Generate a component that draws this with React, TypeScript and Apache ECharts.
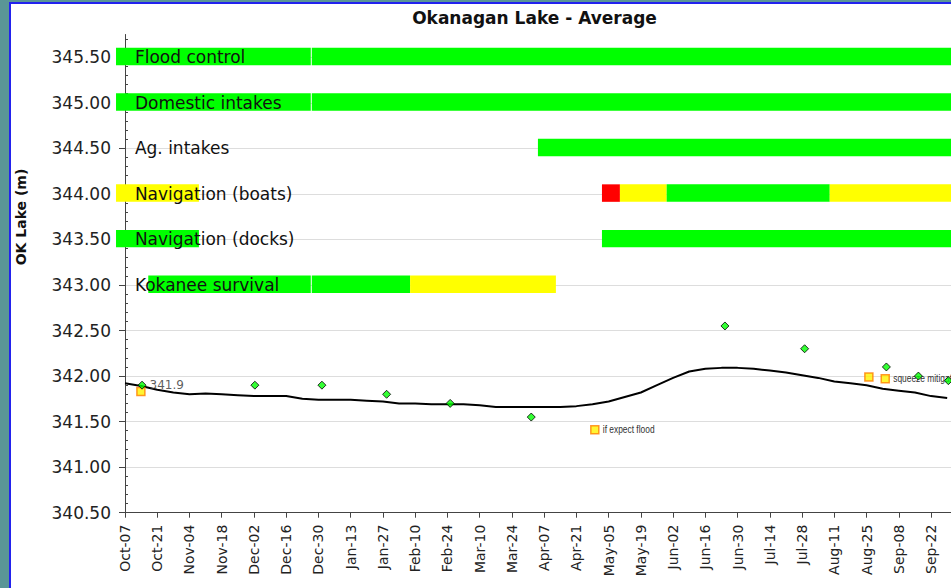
import React, { useEffect, useRef } from 'react';
import * as echarts from 'echarts';

// X axis: days since Oct-07, ticks every 14 days
const tickLabels = [
  'Oct-07', 'Oct-21', 'Nov-04', 'Nov-18', 'Dec-02', 'Dec-16', 'Dec-30', 'Jan-13', 'Jan-27',
  'Feb-10', 'Feb-24', 'Mar-10', 'Mar-24', 'Apr-07', 'Apr-21', 'May-05', 'May-19', 'Jun-02',
  'Jun-16', 'Jun-30', 'Jul-14', 'Jul-28', 'Aug-11', 'Aug-25', 'Sep-08', 'Sep-22', 'Oct-06',
];

// Constraint rows
const rowNames = ['Flood control', 'Domestic intakes', 'Ag. intakes', 'Navigation (boats)', 'Navigation (docks)', 'Kokanee survival'];
const rowLevels = [345.5, 345.0, 344.5, 344.0, 343.5, 343.0];
// segments: [startDay, endDay, status]  status: 0 ok (green), 1 caution (yellow), 2 problem (red)
const floodSegments = [[-3.9, 81.1, 0], [81.1, 364, 0]];
const domesticSegments = [[-3.9, 81.1, 0], [81.1, 364, 0]];
const agSegments = [[179.3, 364, 0]];
const boatSegments = [[-3.9, 32.1, 1], [207.1, 214.9, 2], [214.9, 235.2, 1], [235.2, 306.0, 0], [306.0, 364, 1]];
const dockSegments = [[-3.9, 32.1, 0], [207.1, 364, 0]];
const kokaneeSegments = [[10.1, 81.1, 0], [81.1, 123.8, 0], [123.8, 187.1, 1]];
const rowSegments = [floodSegments, domesticSegments, agSegments, boatSegments, dockSegments, kokaneeSegments];
const statusColors = ['#00FF00', '#FFFF00', '#FF0000'];

// Average lake level, weekly from Oct-07
const weeklyLevel = [
  341.92, 341.89, 341.85, 341.82, 341.80, 341.81, 341.80, 341.79, 341.78, 341.78, 341.78, 341.75,
  341.74, 341.74, 341.74, 341.73, 341.72, 341.70, 341.70, 341.69, 341.69, 341.69, 341.68, 341.66,
  341.66, 341.66, 341.66, 341.66, 341.67, 341.69, 341.72, 341.77, 341.82, 341.90, 341.98, 342.05,
  342.08, 342.09, 342.09, 342.08, 342.06, 342.04, 342.01, 341.98, 341.94, 341.92, 341.90, 341.86,
  341.84, 341.82, 341.78, 341.76,
];

// Targets (green diamonds)
const targetDays = [7.4, 56.4, 85.5, 113.6, 141.2, 176.4, 260.5, 295.1, 330.6, 344.5, 357.5];
const targetLevels = [341.9, 341.9, 341.9, 341.8, 341.7, 341.55, 342.55, 342.3, 342.1, 342.0, 341.95];
const targetNotes = ['341.9', '', '', '', '', '', '', '', '', '', ''];

// Alternative targets (yellow squares)
const altDays = [6.9, 204.0, 323.0, 330.1];
const altLevels = [341.83, 341.41, 341.99, 341.97];
const altNotes = ['', 'if expect flood', '', 'squeeze mitigation'];

const FONT = '"DejaVu Sans", Verdana, sans-serif';
const NOTE_FONT = '"Liberation Sans", Arial, sans-serif';

export default function App() {
  const ref = useRef<HTMLDivElement>(null);

  useEffect(() => {
    if (!ref.current) return;
    const chart = echarts.init(ref.current, undefined, { renderer: 'svg' });

    const barData: any[] = [];
    rowSegments.forEach((segs, r) => {
      segs.forEach((s, j) => {
        const next = segs[j + 1];
        const gap = next && next[2] === s[2] && next[0] === s[1] ? 1 : 0;
        barData.push([s[0], s[1], rowLevels[r], s[2], gap]);
      });
    });

    const labelData = rowLevels.map((lv, i) => [4.3, lv, i]);
    const noteData = altDays
      .map((d, i) => [d, altLevels[i], i])
      .filter((d) => altNotes[d[2]] !== '');

    const option: any = {
      animation: false,
      graphic: [
        {
          type: 'text',
          x: 534.5,
          y: 18,
          style: { text: 'Okanagan Lake - Average', font: `bold 17px ${FONT}`, fill: '#111', align: 'center', verticalAlign: 'middle' },
        },
        {
          type: 'text',
          x: 21,
          y: 217,
          rotation: Math.PI / 2,
          style: { text: 'OK Lake (m)', font: `bold 14px ${FONT}`, fill: '#111', align: 'center', verticalAlign: 'middle' },
        },
      ],
      grid: { left: 125, top: 34.5, width: 838.3, height: 478.2, outerBoundsMode: 'none', containLabel: false },
      xAxis: {
        type: 'value',
        min: 0,
        max: 364,
        interval: 14,
        axisLine: { show: true, lineStyle: { color: '#444', width: 1 } },
        axisTick: { show: true, length: 5, lineStyle: { color: '#444' } },
        splitLine: { show: false },
        axisLabel: {
          rotate: 90,
          margin: 12,
          fontSize: 14,
          fontFamily: FONT,
          color: '#222',
          showMaxLabel: false,
          formatter: (v: number) => tickLabels[Math.round(v / 14)] ?? '',
        },
      },
      yAxis: [
        {
          type: 'value',
          min: 340.5,
          max: 345.75,
          interval: 0.5,
          axisLine: { show: true, lineStyle: { color: '#444', width: 1 } },
          axisTick: { show: true, length: 6, lineStyle: { color: '#444' } },
          splitLine: { show: true, showMaxLine: false, lineStyle: { color: '#DDDDDD', width: 1 } },
          axisLabel: {
            fontSize: 17,
            fontFamily: FONT,
            color: '#222',
            margin: 14,
            showMaxLabel: false,
            formatter: (v: number) => v.toFixed(2),
          },
        },
        {
          type: 'value',
          position: 'left',
          offset: 0,
          min: 340.5,
          max: 345.75,
          interval: 0.5,
          axisLine: { show: false },
          axisTick: { show: false, inside: true },
          minorTick: { show: true, splitNumber: 5, length: 3, lineStyle: { color: '#444' } },
          splitLine: { show: false },
          axisLabel: { show: false },
        },
      ],
      series: [
        {
          type: 'custom',
          name: 'constraints',
          z: 1,
          clip: false,
          encode: { x: [0, 1], y: 2 },
          data: barData,
          renderItem: (params: any, api: any) => {
            const d = barData[params.dataIndex];
            const p0 = api.coord([d[0], d[2] + 0.105]);
            const p1 = api.coord([d[1], d[2] - 0.087]);
            return {
              type: 'rect',
              shape: { x: p0[0], y: p0[1], width: p1[0] - p0[0] - d[4], height: p1[1] - p0[1] },
              style: { fill: statusColors[d[3]] },
            };
          },
        },
        {
          type: 'custom',
          name: 'rowLabels',
          z: 3,
          clip: false,
          encode: { x: 0, y: 1 },
          data: labelData,
          renderItem: (params: any, api: any) => {
            const d = labelData[params.dataIndex];
            const p = api.coord([d[0], d[1]]);
            return {
              type: 'text',
              x: p[0],
              y: p[1],
              style: {
                text: rowNames[d[2]],
                font: `17px ${FONT}`,
                fill: '#111',
                align: 'left',
                verticalAlign: 'middle',
              },
            };
          },
        },
        {
          type: 'line',
          name: 'Average',
          z: 4,
          symbol: 'none',
          lineStyle: { color: '#000', width: 2 },
          data: weeklyLevel.map((v, i) => [i * 7, v]),
        },
        {
          type: 'scatter',
          name: 'Alternative',
          z: 5,
          symbol: 'rect',
          symbolSize: 8,
          itemStyle: { color: '#FFF200', borderColor: '#FF7F00', borderWidth: 1.5 },
          data: altDays.map((d, i) => [d, altLevels[i]]),
        },
        {
          type: 'custom',
          name: 'altNotes',
          z: 5,
          clip: false,
          encode: { x: 0, y: 1 },
          data: noteData,
          renderItem: (params: any, api: any) => {
            const d = noteData[params.dataIndex];
            const p = api.coord([d[0], d[1]]);
            return {
              type: 'text',
              x: p[0] + 8,
              y: p[1],
              scaleX: 0.84,
              style: {
                text: altNotes[d[2]],
                font: `10px ${NOTE_FONT}`,
                fill: '#333',
                align: 'left',
                verticalAlign: 'middle',
              },
            };
          },
        },
        {
          type: 'scatter',
          name: 'Target',
          z: 6,
          symbol: 'diamond',
          symbolSize: 8,
          itemStyle: { color: '#00FF00', borderColor: '#000', borderWidth: 1 },
          data: targetDays.map((d, i) => ({
            value: [d, targetLevels[i]],
            label: {
              show: targetNotes[i] !== '',
              position: 'right',
              distance: 3,
              formatter: targetNotes[i],
              fontSize: 12,
              fontFamily: FONT,
              color: '#333',
            },
          })),
        },
      ],
    };

    chart.setOption(option);
    return () => chart.dispose();
  }, []);

  return (
    <div style={{ position: 'fixed', left: 0, top: 0, width: 951, height: 588, overflow: 'hidden', background: '#5A9696' }}>
      <div
        style={{
          position: 'absolute',
          left: 9,
          top: 2,
          width: 1200,
          height: 900,
          background: '#FFFFFF',
          borderLeft: '2px solid #2222EE',
          borderTop: '2px solid #2222EE',
        }}
      />
      <div ref={ref} style={{ position: 'absolute', left: 0, top: 0, width: 951, height: 588 }} />
    </div>
  );
}
